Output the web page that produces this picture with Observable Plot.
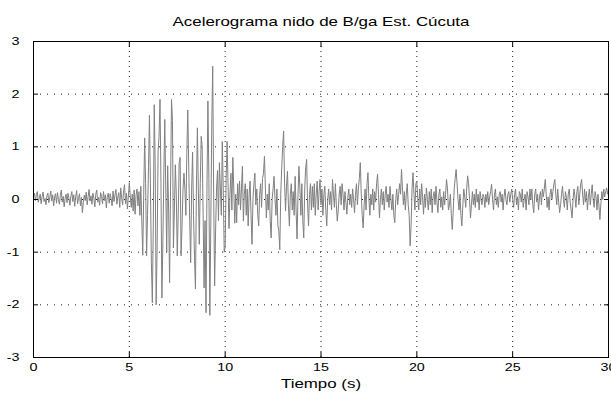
<!DOCTYPE html>
<html>
<head>
<meta charset="utf-8">
<script src="https://cdn.jsdelivr.net/npm/d3@7"></script>
<script src="https://cdn.jsdelivr.net/npm/@observablehq/plot@0.6"></script>
<style>
  body { margin: 0; background: #fff; overflow: hidden; }
</style>
</head>
<body>
<script>
// Accelerogram, Cúcuta station, sampled every dt seconds
const title = "Acelerograma nido de B/ga Est. Cúcuta";
const xLabel = "Tiempo (s)";
const xTicks = [0, 5, 10, 15, 20, 25, 30];
const yTicks = [-3, -2, -1, 0, 1, 2, 3];
const dt = 0.05;
const accel = [
  0.05, 0.12, -0.02, 0.08, 0.15, -0.05, 0.03, 0.10, -0.08, 0.06, 0.14, -0.04, 0.02, -0.10, 0.07, 0.12, -0.06, 0.04, 0.16, -0.03,
  0.09, -0.12, 0.05, 0.11, -0.07, 0.13, 0.00, -0.09, 0.08, 0.18, -0.05, 0.06, -0.14, 0.03, 0.10, -0.06, 0.12, 0.02, -0.11, 0.07,
  0.15, -0.04, 0.09, -0.13, 0.05, 0.17, -0.08, 0.02, 0.11, -0.12, 0.04, -0.25, -0.06, 0.08, -0.02, 0.14, -0.10, 0.06, 0.19, -0.03,
  0.07, -0.09, 0.12, 0.03, -0.14, 0.10, 0.18, -0.05, 0.04, -0.11, 0.13, 0.06, -0.08, 0.15, -0.02, 0.09, -0.16, 0.05, 0.12, -0.07,
  0.11, 0.02, -0.12, 0.16, -0.04, 0.08, 0.19, -0.09, 0.05, 0.13, -0.15, 0.22, 0.03, -0.10, 0.17, 0.28, -0.08, 0.12, -0.18, 0.06,
  0.32, 0.05, -0.15, 0.10, -0.22, 0.18, -0.28, 0.08, 0.20, -0.12, 0.15, -0.30, 0.25, -0.40, -1.06, 0.10, 1.17, 0.30, -1.07, -0.30,
  0.60, 1.60, 0.30, -1.20, -1.96, -0.50, 1.80, 0.60, -2.00, -0.90, 0.90, 1.20, 1.90, 0.30, -1.87, -0.80, 0.50, 1.52, 0.20, -1.00,
  0.64, -0.20, -1.58, 0.20, 1.90, 1.50, -0.92, -0.20, 0.66, 0.10, -1.07, -0.30, 0.70, 0.80, -1.07, -0.50, 0.20, 0.50, 0.20, -0.30,
  0.90, 1.70, 0.60, -0.40, -1.20, 0.20, 0.90, -0.30, -1.10, -1.70, 0.20, 1.36, 0.20, -0.85, 0.30, 1.20, 1.00, -0.30, -1.68, -0.40,
  -2.15, 0.20, 1.87, 0.40, -2.20, -0.50, 1.40, 2.53, 0.10, -1.64, -0.60, 0.20, 0.55, -0.40, 0.70, 0.20, -0.30, 1.10, 0.20, -1.00,
  -0.90, 0.40, 1.10, 0.30, -0.55, 0.10, 0.50, -0.20, 0.80, 0.20, -0.45, 0.10, -0.44, 0.30, -0.10, 0.35, -0.20, 0.20, 0.63, -0.41,
  0.10, 0.30, -0.30, 0.20, -0.50, 0.10, 0.35, -0.30, -0.85, 0.00, 0.30, 0.50, -0.10, 0.20, -0.30, -0.50, 0.10, 0.30, -0.15, 0.40,
  0.50, 0.82, 0.20, -0.35, 0.10, -0.20, 0.30, -0.40, -0.73, 0.00, 0.20, 0.44, 0.00, -0.30, 0.20, -0.50, -0.60, -0.95, 0.10, 0.60,
  1.00, 1.30, 0.30, -0.22, 0.25, 0.54, -0.10, -0.50, 0.10, 0.30, -0.20, 0.15, -0.30, 0.44, -0.20, -0.75, 0.10, 0.63, 0.20, -0.30,
  0.30, -0.40, -0.73, 0.20, 0.60, 0.76, -0.10, -0.50, 0.10, 0.30, -0.20, 0.25, -0.15, 0.30, -0.30, 0.10, 0.35, -0.20, 0.15, 0.38,
  -0.10, 0.20, -0.30, 0.10, 0.25, -0.20, -0.50, 0.00, 0.20, -0.10, 0.15, -0.20, 0.38, 0.10, -0.15, 0.30, -0.10, -0.41, -0.20, 0.10,
  0.25, -0.10, 0.30, 0.10, -0.20, 0.15, -0.05, -0.28, 0.05, 0.20, -0.10, 0.10, -0.15, 0.20, 0.00, -0.25, 0.10, 0.30, -0.10, 0.20,
  0.40, 0.70, 0.10, -0.30, -0.54, -0.10, 0.20, -0.20, 0.30, 0.51, 0.00, -0.30, 0.10, -0.10, 0.20, -0.20, 0.15, -0.05, 0.30, 0.48,
  0.10, -0.35, 0.00, 0.20, -0.10, 0.15, -0.20, 0.10, 0.25, -0.05, 0.10, -0.15, 0.25, 0.00, -0.20, 0.10, -0.30, -0.44, 0.00, 0.20,
  -0.10, 0.10, 0.30, 0.10, 0.57, 0.20, -0.10, 0.15, -0.20, 0.10, 0.30, -0.10, -0.30, -0.88, -0.50, 0.20, 0.51, 0.10, -0.20, 0.30,
  0.35, 0.00, -0.20, 0.20, -0.10, 0.30, 0.05, -0.28, 0.10, -0.15, 0.22, 0.00, -0.20, 0.15, -0.10, 0.20, -0.25, 0.05, 0.15, -0.10,
  0.25, -0.05, -0.25, 0.10, 0.20, -0.15, 0.05, -0.20, 0.15, -0.10, 0.10, 0.38, 0.20, -0.20, -0.10, 0.10, -0.30, -0.57, -0.20, 0.20,
  0.40, 0.57, 0.30, 0.00, -0.20, 0.10, -0.30, -0.50, -0.10, 0.20, 0.05, -0.15, 0.20, 0.45, 0.30, 0.00, -0.35, -0.10, 0.15, -0.10,
  0.10, -0.15, 0.20, -0.05, 0.10, -0.20, 0.15, 0.00, -0.10, 0.10, 0.05, -0.15, 0.10, -0.05, 0.15, -0.10, 0.05, 0.15, 0.29, 0.00,
  -0.20, 0.10, 0.20, -0.10, 0.05, -0.15, 0.10, 0.15, -0.05, 0.10, -0.20, 0.05, 0.20, 0.00, -0.10, 0.10, 0.15, -0.05, 0.10, 0.20,
  0.00, -0.15, 0.10, 0.20, -0.10, 0.05, -0.20, 0.15, 0.10, -0.05, 0.20, -0.15, 0.00, 0.10, -0.20, 0.15, 0.05, -0.10, 0.20, 0.00,
  0.20, -0.10, -0.25, 0.10, 0.20, -0.05, 0.10, -0.20, 0.05, 0.15, -0.10, 0.20, 0.05, 0.20, 0.38, 0.10, -0.15, 0.05, -0.20, 0.10,
  0.20, 0.00, 0.15, 0.30, 0.38, 0.10, -0.10, 0.20, -0.05, -0.25, -0.10, 0.10, 0.25, 0.00, -0.15, 0.15, 0.05, -0.20, 0.10, 0.20,
  -0.05, -0.20, -0.35, 0.00, 0.20, 0.05, -0.15, 0.15, 0.25, -0.10, 0.10, 0.30, 0.38, 0.10, -0.10, 0.20, -0.05, 0.15, -0.20, 0.05,
  0.20, -0.10, 0.10, 0.28, 0.00, -0.15, 0.15, 0.05, -0.20, 0.10, -0.10, -0.38, -0.10, 0.15, 0.00, 0.20, 0.05, 0.15, 0.22, 0.10,
  0.20
];

const records = accel.map((a, i) => ({t: i * dt, a}));
const innerX = xTicks.slice(1, -1);
const innerY = yTicks.slice(1, -1);
const font = "'Liberation Sans', Arial, Helvetica, sans-serif";
const stretch = 1.3; // glyphs are drawn wider than tall
const plain = (d) => String(d); // integer labels with an ASCII hyphen for negatives

const chart = Plot.plot({
  width: 611,
  height: 397,
  marginLeft: 33,
  marginRight: 3,
  marginTop: 41,
  marginBottom: 40,
  style: {fontFamily: font, fontSize: "11px", color: "#000", background: "#fff", overflow: "visible"},
  x: {domain: [0, 30]},
  y: {domain: [-3, 3]},
  marks: [
    Plot.gridX(innerX, {stroke: "#000", strokeOpacity: 0.9, strokeDasharray: "1,4"}),
    Plot.gridY(innerY, {stroke: "#000", strokeOpacity: 0.9, strokeDasharray: "1,6"}),
    Plot.line(records, {x: "t", y: "a", stroke: "#808080", strokeWidth: 1}),
    Plot.frame({stroke: "#000", strokeWidth: 1}),
    Plot.axisX(xTicks, {anchor: "bottom", tickSize: -5, tickPadding: 11, tickFormat: plain, label: null}),
    Plot.axisX(xTicks, {anchor: "top", tickSize: -5, tickFormat: () => "", label: null}),
    Plot.axisY(yTicks, {anchor: "left", tickSize: -5, tickPadding: 19, tickFormat: plain, label: null}),
    Plot.axisY(yTicks, {anchor: "right", tickSize: -5, tickFormat: () => "", label: null}),
    Plot.text([title], {frameAnchor: "top", dy: -25, fontSize: 13, fill: "#000"}),
    Plot.text([xLabel], {frameAnchor: "bottom", dy: 30, fontSize: 13, fill: "#000"})
  ]
});

document.body.append(chart);

// widen every label horizontally
chart.querySelectorAll("text").forEach((el) => {
  const w = el.getComputedTextLength();
  if (w > 0) {
    el.setAttribute("textLength", (w * stretch).toFixed(1));
    el.setAttribute("lengthAdjust", "spacingAndGlyphs");
  }
});
</script>
</body>
</html>
